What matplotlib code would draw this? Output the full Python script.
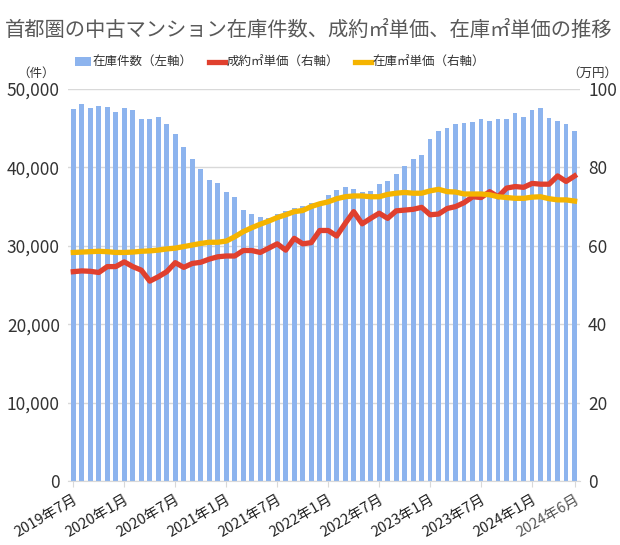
import matplotlib.pyplot as plt
import numpy as np

plt.rcParams['font.family'] = ['Noto Sans CJK JP', 'DejaVu Sans']

# 2019年7月 .. 2024年6月 (60 months)
months = []
for k in range(60):
    y = 2019 + (6 + k) // 12
    m = (6 + k) % 12 + 1
    months.append(f"{y}年{m}月")

stock_count = [47410, 48090, 47620, 47750, 47660, 47030, 47540, 47360, 46130, 46170,
               46470, 45500, 44260, 42640, 41030, 39750, 38390, 38050, 36900, 36190,
               34570, 34060, 33640, 33510, 34020, 34440, 34780, 35080, 35420, 35630,
               36480, 37120, 37540, 37240, 36900, 37030, 37930, 38270, 39160, 40180,
               41070, 41580, 43580, 44680, 45070, 45540, 45700, 45830, 46130, 45920,
               46210, 46210, 46900, 46470, 47360, 47540, 46300, 45960, 45580, 44640]
deal_price = [53.4, 53.6, 53.5, 53.2, 54.7, 54.7, 55.9, 54.7, 53.8, 51.0,
              52.1, 53.4, 55.7, 54.5, 55.5, 55.8, 56.6, 57.2, 57.4, 57.4,
              58.8, 58.8, 58.3, 59.4, 60.5, 58.9, 61.9, 60.5, 60.8, 63.9,
              63.9, 62.5, 65.7, 68.7, 65.6, 67.0, 68.3, 67.0, 68.9, 69.1,
              69.3, 69.8, 67.9, 68.1, 69.5, 70.0, 71.0, 72.5, 72.3, 73.8,
              72.5, 74.7, 75.1, 74.9, 75.9, 75.7, 75.7, 77.8, 76.4, 77.8]
stock_price = [58.3, 58.4, 58.5, 58.6, 58.5, 58.3, 58.3, 58.4, 58.6, 58.7,
               58.9, 59.2, 59.4, 59.8, 60.2, 60.6, 60.9, 60.9, 61.2, 62.3,
               63.6, 64.6, 65.5, 66.3, 67.2, 67.9, 68.7, 69.0, 70.0, 70.7,
               71.2, 72.0, 72.5, 72.7, 72.7, 72.5, 72.5, 73.1, 73.4, 73.6,
               73.4, 73.4, 74.0, 74.4, 73.8, 73.7, 73.2, 73.2, 73.2, 73.0,
               72.5, 72.3, 72.1, 72.1, 72.4, 72.5, 72.0, 71.7, 71.7, 71.4]
tick_idx = [0, 6, 12, 18, 24, 30, 36, 42, 48, 54, 59]

fig = plt.figure(figsize=(6.2, 5.45), dpi=100)
ax = fig.add_axes([0.110, 0.117, 0.825, 0.720])
ax2 = ax.twinx()

x = np.arange(len(months))
ax.bar(x, stock_count, width=0.55, color='#8db4ee', label='在庫件数（左軸）', zorder=2)
ax2.plot(x, deal_price, color='#e0402e', lw=3.8, label='成約㎡単価（右軸）')
ax2.plot(x, stock_price, color='#f5b400', lw=3.8, label='在庫㎡単価（右軸）')

ax.set_ylim(0, 50000)
ax2.set_ylim(0, 100)
ax.set_xlim(-0.6, 59.6)
ax.set_yticks(range(0, 50001, 10000))
ax.set_yticklabels([f"{v:,}" for v in range(0, 50001, 10000)], fontsize=12.5, color='#333333')
ax2.set_yticks(range(0, 101, 20))
ax2.set_yticklabels([str(v) for v in range(0, 101, 20)], fontsize=12.5, color='#333333')
ax.grid(axis='y', color='#d9d9d9', lw=1, zorder=0)
ax.set_axisbelow(True)
for a in (ax, ax2):
    for s in a.spines.values():
        s.set_visible(False)
    a.tick_params(axis='y', length=0, pad=6)
ax.spines['bottom'].set_visible(True)
ax.spines['bottom'].set_color('#d9d9d9')

ax.set_xticks(tick_idx)
ax.set_xticklabels([months[i] for i in tick_idx], rotation=30, ha='right',
                   rotation_mode='anchor', fontsize=10.5, color='#222222')
ax.get_xticklabels()[-1].set_color('#555555')
ax.tick_params(axis='x', length=4, color='#d9d9d9', pad=4)

fig.text(0.008, 0.945, '首都圏の中古マンション在庫件数、成約㎡単価、在庫㎡単価の推移',
         fontsize=14.6, color='#595959', va='center')
fig.text(0.058, 0.866, '（件）', fontsize=9, color='#333333', ha='center', va='center')
fig.text(0.995, 0.866, '（万円）', fontsize=9, color='#333333', ha='right', va='center')

h1, l1 = ax.get_legend_handles_labels()
h2, l2 = ax2.get_legend_handles_labels()
fig.legend(h1 + h2, l1 + l2, loc='center', bbox_to_anchor=(0.452, 0.885), ncol=3,
           frameon=False, fontsize=9, handlelength=1.3, handletextpad=0.1,
           columnspacing=1.3, labelcolor='#333333')

fig.savefig('out.png', dpi=100)
